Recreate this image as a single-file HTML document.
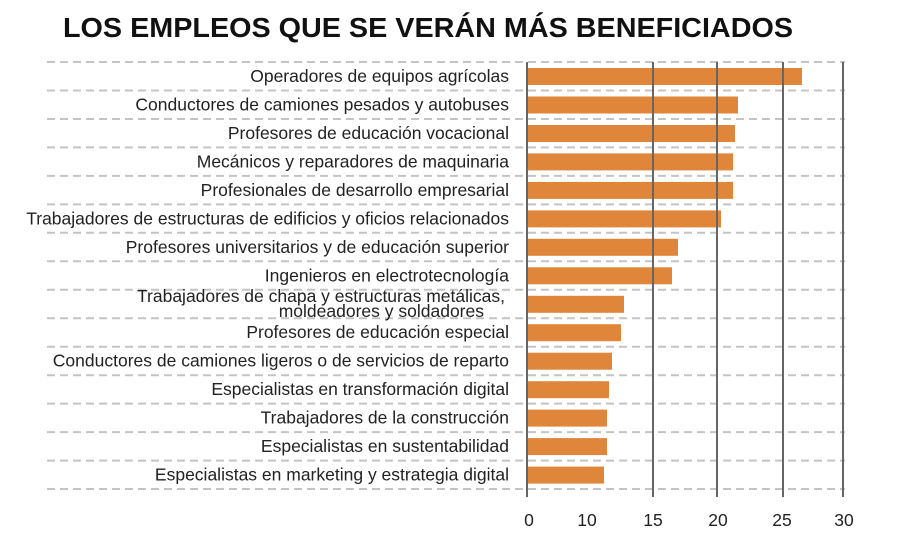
<!DOCTYPE html>
<html><head><meta charset="utf-8"><style>
html,body{margin:0;padding:0;background:#fff;}
svg{display:block;font-family:"Liberation Sans",sans-serif;}
</style></head><body>
<svg width="900" height="542" xmlns="http://www.w3.org/2000/svg">
<text x="63" y="37" font-size="28" font-weight="bold" fill="#111" textLength="730" lengthAdjust="spacingAndGlyphs">LOS EMPLEOS QUE SE VERÁN MÁS BENEFICIADOS</text>
<g stroke="#c4c4c4" stroke-width="2" stroke-dasharray="8,5">
<line x1="47" x2="845" y1="62" y2="62"/><line x1="47" x2="845" y1="90.5" y2="90.5"/><line x1="47" x2="845" y1="119" y2="119"/><line x1="47" x2="845" y1="147.4" y2="147.4"/><line x1="47" x2="845" y1="175.9" y2="175.9"/><line x1="47" x2="845" y1="204.4" y2="204.4"/><line x1="47" x2="845" y1="232.8" y2="232.8"/><line x1="47" x2="845" y1="261.3" y2="261.3"/><line x1="47" x2="845" y1="289.8" y2="289.8"/><line x1="47" x2="845" y1="318.2" y2="318.2"/><line x1="47" x2="845" y1="346.7" y2="346.7"/><line x1="47" x2="845" y1="375.2" y2="375.2"/><line x1="47" x2="845" y1="403.6" y2="403.6"/><line x1="47" x2="845" y1="432.1" y2="432.1"/><line x1="47" x2="845" y1="460.6" y2="460.6"/><line x1="47" x2="845" y1="489" y2="489"/>
</g>
<g fill="#e0863a">
<rect x="528" y="68" width="274" height="17"/>
<rect x="528" y="96.5" width="210" height="17"/>
<rect x="528" y="125" width="207" height="17"/>
<rect x="528" y="153.4" width="205" height="17"/>
<rect x="528" y="181.9" width="205" height="17"/>
<rect x="528" y="210.4" width="193" height="17"/>
<rect x="528" y="238.8" width="150" height="17"/>
<rect x="528" y="267.3" width="144" height="17"/>
<rect x="528" y="295.8" width="96" height="17"/>
<rect x="528" y="324.2" width="93" height="17"/>
<rect x="528" y="352.7" width="84" height="17"/>
<rect x="528" y="381.2" width="81" height="17"/>
<rect x="528" y="409.6" width="79" height="17"/>
<rect x="528" y="438.1" width="79" height="17"/>
<rect x="528" y="466.6" width="76" height="17"/>
</g>
<g stroke="#666" stroke-width="2">
<line x1="527" x2="527" y1="62" y2="497"/><line x1="653" x2="653" y1="62" y2="497"/><line x1="717" x2="717" y1="62" y2="497"/><line x1="783" x2="783" y1="62" y2="497"/><line x1="843" x2="843" y1="62" y2="497"/>
</g>
<g font-size="17.5" fill="#222" text-anchor="end">
<text x="509" y="82">Operadores de equipos agrícolas</text>
<text x="509" y="110.5">Conductores de camiones pesados y autobuses</text>
<text x="509" y="139">Profesores de educación vocacional</text>
<text x="509" y="167.4">Mecánicos y reparadores de maquinaria</text>
<text x="509" y="195.9">Profesionales de desarrollo empresarial</text>
<text x="509" y="224.4">Trabajadores de estructuras de edificios y oficios relacionados</text>
<text x="509" y="252.8">Profesores universitarios y de educación superior</text>
<text x="509" y="281.3">Ingenieros en electrotecnología</text>
<text x="505" y="302">Trabajadores de chapa y estructuras metálicas,</text>
<text x="484" y="317">moldeadores y soldadores</text>
<text x="509" y="338.2">Profesores de educación especial</text>
<text x="509" y="366.7">Conductores de camiones ligeros o de servicios de reparto</text>
<text x="509" y="395.2">Especialistas en transformación digital</text>
<text x="509" y="423.6">Trabajadores de la construcción</text>
<text x="509" y="452.1">Especialistas en sustentabilidad</text>
<text x="509" y="480.6">Especialistas en marketing y estrategia digital</text>
</g>
<g font-size="17.5" fill="#222" text-anchor="middle">
<text x="529" y="526">0</text><text x="587" y="526">10</text><text x="653" y="526">15</text><text x="718" y="526">20</text><text x="782" y="526">25</text><text x="844" y="526">30</text>
</g>
</svg>
</body></html>
